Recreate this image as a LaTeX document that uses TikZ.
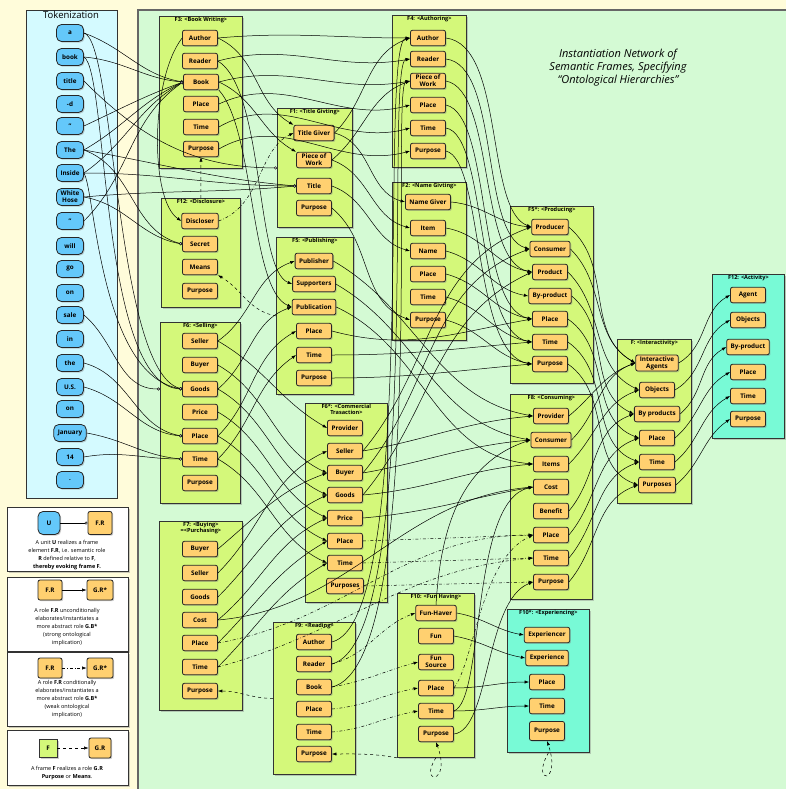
\documentclass[tikz,border=0pt]{standalone}
\usepackage{fontspec}
\setmainfont{Open Sans}
\usetikzlibrary{arrows.meta,shadows,calc}
\definecolor{outercream}{RGB}{255,252,218}
\definecolor{maingreen}{RGB}{212,250,212}
\definecolor{tokpanel}{RGB}{212,250,255}
\definecolor{framegreen}{RGB}{212,248,122}
\definecolor{frameteal}{RGB}{120,250,214}
\definecolor{roleorange}{RGB}{255,208,112}
\definecolor{tokenblue}{RGB}{100,200,250}
\def\rolefont{\fontsize{6.3}{6.8}\selectfont\bfseries}
\def\ftitlefont{\fontsize{5.6}{6}\selectfont\bfseries}
\def\legfont{\fontsize{5.5}{7.9}\selectfont}
\tikzset{
  role/.style={draw=black!85, fill=roleorange, rounded corners=2pt, line width=0.8pt,
    font=\rolefont, minimum height=15.5pt, minimum width=35pt, inner xsep=4pt, inner ysep=1.5pt,
    align=center, drop shadow={shadow xshift=1.2pt, shadow yshift=-1.2pt, opacity=0.4}},
  token/.style={role, fill=tokenblue, rounded corners=5pt, minimum height=17pt, minimum width=27pt},
  framebox/.style={draw=black!80, fill=framegreen, line width=0.8pt, anchor=north west,
    drop shadow={shadow xshift=2pt, shadow yshift=-2pt, opacity=0.4}},
  tealbox/.style={framebox, fill=frameteal},
  ftitle/.style={font=\ftitlefont, anchor=north, inner sep=1pt, align=center},
  legbox/.style={draw=black!80, fill=white, line width=0.8pt, anchor=north west,
    drop shadow={shadow xshift=1.5pt, shadow yshift=-1.5pt, opacity=0.4}},
  legtext/.style={font=\legfont, align=center, inner sep=0pt},
  elab/.style={-{Latex[length=4.5pt,width=3.2pt]}, line width=0.5pt},
  cond/.style={elab, dash dot},
  purp/.style={elab, dashed},
  realize/.style={-{Circle[length=3pt,width=3pt,fill=white]}, line width=0.5pt},
}
\begin{document}
\begin{tikzpicture}[x=1pt,y=-1pt]
\useasboundingbox (0,0) rectangle (786,789);
\fill[outercream] (0,0) rectangle (786,789);
\fill[maingreen] (138,10) rectangle (786,789);
\draw[black!60, line width=2pt] (138,789) -- (138,10) -- (786,10);

% tokenization panel
\node[draw=black!80, fill=tokpanel, line width=0.8pt, anchor=north west, minimum width=91pt, minimum height=488pt] (tokpanel) at (26,10) {};
\node[font=\fontsize{9.5}{10}\selectfont] (toktitle) at (71,15) {Tokenization};
\node[token] (tA) at (70,33) {a};
\node[token] (tBook) at (70,57) {book};
\node[token] (tTitle) at (70,81) {title};
\node[token] (tD) at (70,104) {-d};
\node[token] (tQa) at (70,126) {"};
\node[token] (tThe) at (70,150) {The};
\node[token] (tInside) at (70,173) {Inside};
\node[token] (tWhite) at (70,197) {White\\Hose};
\node[token] (tQb) at (70,221) {"};
\node[token] (tWill) at (70,246) {will};
\node[token] (tGo) at (70,269) {go};
\node[token] (tOn) at (70,293) {on};
\node[token] (tSale) at (70,315) {sale};
\node[token] (tIn) at (70,339) {in};
\node[token] (tThe2) at (70,363) {the};
\node[token] (tUS) at (70,387) {U.S.};
\node[token] (tOn2) at (70,409) {on};
\node[token] (tJan) at (70,433) {January};
\node[token] (t14) at (70,457) {14};
\node[token] (tDot) at (70,480) {.};

% legend
\node[legbox, minimum width=121pt, minimum height=64pt] (leg1) at (7,507) {};
\node[token, minimum width=22pt, minimum height=23pt] (legU) at (49,523) {U};
\node[role, minimum width=24pt, minimum height=23pt] (legFR) at (100,523) {F.R};
\draw[realize] (legU) -- (legFR);
\node[legtext] (leg1t) at (67,555) {A unit \textbf{U} realizes a frame\\element \textbf{F.R}, i.e. semantic role\\\textbf{R} defined relative to \textbf{F},\\\textbf{thereby evoking frame F.}};
\node[legbox, minimum width=121pt, minimum height=74pt] (leg2) at (7,577) {};
\node[role, minimum width=24pt, minimum height=20pt] (legFRb) at (50,590) {F.R};
\node[role, minimum width=26pt, minimum height=20pt] (legGRb) at (100,590) {G.R*};
\draw[elab] (legFRb) -- (legGRb);
\node[legtext] (leg2t) at (67,627) {A role \textbf{F.R} unconditionally\\elaborates/instantiates a\\more abstract role \textbf{G.B*}\\(strong ontological\\implication)};
\node[legbox, minimum width=121pt, minimum height=74pt] (leg3) at (7,652) {};
\node[role, minimum width=24pt, minimum height=20pt] (legFRc) at (50,668) {F.R};
\node[role, minimum width=26pt, minimum height=20pt] (legGRc) at (100,668) {G.R*};
\draw[cond] (legFRc) -- (legGRc);
\node[legtext] (leg3t) at (67,699) {A role \textbf{F.R} conditionally\\elaborates/instantiates a\\more abstract role \textbf{G.B*}\\(weak ontological\\implication)};
\node[legbox, minimum width=121pt, minimum height=55pt] (leg4) at (7,730) {};
\node[framebox, anchor=center, font=\rolefont, minimum size=18pt] (legF) at (48,748) {F};
\node[role, minimum width=22pt, minimum height=20pt] (legGRd) at (100,748) {G.R};
\draw[purp] (legF) -- (legGRd);
\node[legtext] (leg4t) at (67,773) {A frame \textbf{F} realizes a role \textbf{G.R}\\\textbf{Purpose} or \textbf{Means}.};

% title
\node[font=\fontsize{11}{13}\selectfont\itshape, align=center] (nettitle) at (618,68) {Instantiation Network of\\Semantic Frames, Specifying\\“Ontological Hierarchies”};

% frames
\node[framebox, minimum width=83pt, minimum height=152pt] (F3) at (159,16) {};
\node[framebox, minimum width=79pt, minimum height=109pt] (F12) at (161,198) {};
\node[framebox, minimum width=75pt, minimum height=119pt] (F1) at (277,108) {};
\node[framebox, minimum width=77pt, minimum height=157pt] (F5) at (276,237) {};
\node[framebox, minimum width=74pt, minimum height=152pt] (F4) at (392,15) {};
\node[framebox, minimum width=74pt, minimum height=158pt] (F2) at (392,182) {};
\node[framebox, minimum width=83pt, minimum height=177pt] (F5s) at (510,206) {};
\node[framebox, minimum width=74pt, minimum height=164pt] (FI) at (617,339) {};
\node[tealbox, minimum width=72pt, minimum height=164pt] (F12a) at (712,274) {};
\node[framebox, minimum width=80pt, minimum height=181pt] (F6) at (160,322) {};
\node[framebox, minimum width=83pt, minimum height=189pt] (F7) at (159,521) {};
\node[framebox, minimum width=82pt, minimum height=199pt] (F6s) at (305,403) {};
\node[framebox, minimum width=82pt, minimum height=152pt] (F9) at (273,622) {};
\node[framebox, minimum width=82pt, minimum height=205pt] (F8) at (510,394) {};
\node[framebox, minimum width=77pt, minimum height=164pt] (F10) at (397,593) {};
\node[tealbox, minimum width=82pt, minimum height=143pt] (F10s) at (507,609) {};

\node[ftitle] (F3t) at (F3.north) {F3: <Book Writing>};
\node[ftitle] (F12t) at (F12.north) {F12: <Disclosure>};
\node[ftitle] (F1t) at (F1.north) {F1: <Title Givting>};
\node[ftitle] (F5t) at (F5.north) {F5: <Publishing>};
\node[ftitle] (F4t) at (F4.north) {F4: <Authoring>};
\node[ftitle] (F2t) at (F2.north) {F2: <Name Givting>};
\node[ftitle] (F5st) at (F5s.north) {F5*: <Producing>};
\node[ftitle] (FIt) at (FI.north) {F: <Interactivity>};
\node[ftitle] (F12at) at (F12a.north) {F12: <Activity>};
\node[ftitle] (F6t) at (F6.north) {F6: <Selling>};
\node[ftitle] (F7t) at (F7.north) {F7: <Buying>\\=<Purchasing>};
\node[ftitle] (F6st) at (F6s.north) {F6*: <Commercial\\Trasaction>};
\node[ftitle] (F9t) at (F9.north) {F9: <Reading>};
\node[ftitle] (F8t) at (F8.north) {F8: <Consuming>};
\node[ftitle] (F10t) at (F10.north) {F10: <Fun Having>};
\node[ftitle] (F10st) at (F10s.north) {F10*: <Experiencing>};

% roles
\node[role] (f3Author) at (200,38) {Author};
\node[role] (f3Reader) at (200,61) {Reader};
\node[role] (f3Book) at (201,82) {Book};
\node[role] (f3Place) at (201,104) {Place};
\node[role] (f3Time) at (201,127) {Time};
\node[role] (f3Purpose) at (201,149) {Purpose};

\node[role] (f12Discloser) at (200,221) {Discloser};
\node[role] (f12Secret) at (200,244) {Secret};
\node[role] (f12Means) at (200,267) {Means};
\node[role] (f12Purpose) at (200,291) {Purpose};

\node[role] (f1Giver) at (314,133) {Title Giver};
\node[role] (f1Work) at (314,160) {Piece of\\Work};
\node[role] (f1Title) at (314,186) {Title};
\node[role] (f1Purpose) at (314,208) {Purpose};

\node[role] (f5Publisher) at (314,261) {Publisher};
\node[role] (f5Supporters) at (314,284) {Supporters};
\node[role] (f5Publication) at (314,307) {Publication};
\node[role] (f5Place) at (314,331) {Place};
\node[role] (f5Time) at (314,355) {Time};
\node[role] (f5Purpose) at (314,378) {Purpose};

\node[role] (f4Author) at (428,38) {Author};
\node[role] (f4Reader) at (428,59) {Reader};
\node[role] (f4Work) at (428,81) {Piece of\\Work};
\node[role] (f4Place) at (428,105) {Place};
\node[role] (f4Time) at (428,128) {Time};
\node[role] (f4Purpose) at (428,151) {Purpose};

\node[role] (f2Giver) at (428,202) {Name Giver};
\node[role] (f2Item) at (428,228) {Item};
\node[role] (f2Name) at (428,251) {Name};
\node[role] (f2Place) at (428,274) {Place};
\node[role] (f2Time) at (428,297) {Time};
\node[role] (f2Purpose) at (428,320) {Purpose};

\node[role] (pProducer) at (550,227) {Producer};
\node[role] (pConsumer) at (550,249) {Consumer};
\node[role] (pProduct) at (550,272) {Product};
\node[role] (pByproduct) at (550,296) {By-product};
\node[role] (pPlace) at (550,319) {Place};
\node[role] (pTime) at (550,342) {Time};
\node[role] (pPurpose) at (550,364) {Purpose};

\node[role] (iAgents) at (657,363) {Interactive\\Agents};
\node[role] (iObjects) at (657,390) {Objects};
\node[role] (iByproducts) at (657,414) {By products};
\node[role] (iPlace) at (657,438) {Place};
\node[role] (iTime) at (657,462) {Time};
\node[role] (iPurposes) at (657,485) {Purposes};

\node[role] (aAgent) at (748,295) {Agent};
\node[role] (aObjects) at (748,320) {Objects};
\node[role] (aByproduct) at (748,347) {By-product};
\node[role] (aPlace) at (748,372) {Place};
\node[role] (aTime) at (748,396) {Time};
\node[role] (aPurpose) at (748,419) {Purpose};

\node[role] (f6Seller) at (200,341) {Seller};
\node[role] (f6Buyer) at (200,365) {Buyer};
\node[role] (f6Goods) at (200,389) {Goods};
\node[role] (f6Price) at (200,412) {Price};
\node[role] (f6Place) at (200,436) {Place};
\node[role] (f6Time) at (200,459) {Time};
\node[role] (f6Purpose) at (200,483) {Purpose};

\node[role] (f7Buyer) at (200,549) {Buyer};
\node[role] (f7Seller) at (200,573) {Seller};
\node[role] (f7Goods) at (200,597) {Goods};
\node[role] (f7Cost) at (200,620) {Cost};
\node[role] (f7Place) at (200,643) {Place};
\node[role] (f7Time) at (200,667) {Time};
\node[role] (f7Purpose) at (200,691) {Purpose};

\node[role] (ctProvider) at (345,428) {Provider};
\node[role] (ctSeller) at (345,451) {Seller};
\node[role] (ctBuyer) at (345,473) {Buyer};
\node[role] (ctGoods) at (345,495) {Goods};
\node[role] (ctPrice) at (345,518) {Price};
\node[role] (ctPlace) at (345,541) {Place};
\node[role] (ctTime) at (345,563) {Time};
\node[role] (ctPurposes) at (345,586) {Purposes};

\node[role] (f9Author) at (314,642) {Author};
\node[role] (f9Reader) at (314,664) {Reader};
\node[role] (f9Book) at (314,687) {Book};
\node[role] (f9Place) at (314,709) {Place};
\node[role] (f9Time) at (314,732) {Time};
\node[role] (f9Purpose) at (314,754) {Purpose};

\node[role] (f8Provider) at (551,416) {Provider};
\node[role] (f8Consumer) at (551,440) {Consumer};
\node[role] (f8Items) at (551,464) {Items};
\node[role] (f8Cost) at (551,487) {Cost};
\node[role] (f8Benefit) at (551,511) {Benefit};
\node[role] (f8Place) at (551,535) {Place};
\node[role] (f8Time) at (551,558) {Time};
\node[role] (f8Purpose) at (551,582) {Purpose};

\node[role] (f10Haver) at (436,613) {Fun-Haver};
\node[role] (f10Fun) at (436,636) {Fun};
\node[role] (f10Source) at (436,662) {Fun\\Source};
\node[role] (f10Place) at (436,688) {Place};
\node[role] (f10Time) at (436,711) {Time};
\node[role] (f10Purpose) at (436,734) {Purpose};

\node[role] (eExperiencer) at (547,635) {Experiencer};
\node[role] (eExperience) at (547,658) {Experience};
\node[role] (ePlace) at (547,682) {Place};
\node[role] (eTime) at (547,706) {Time};
\node[role, minimum height=19pt] (ePurpose) at (547,731) {Purpose};

% tokens realize roles
\draw[realize] (tA.east) to[out=-20,in=170] (f3Book.west);
\draw[realize] (tBook.east) to[out=-5,in=175] (f3Book.west);
\draw[realize] (tQa.east) to[out=25,in=200] (f3Book.west);
\draw[realize] (tThe.east) to[out=30,in=205] (f3Book.west);
\draw[realize] (tInside.east) to[out=35,in=210] (f3Book.west);
\draw[realize] (tQb.east) to[out=45,in=215] (f3Book.west);
\draw[realize] (tThe.east) to[out=-10,in=175] (f1Title.west);
\draw[realize] (tInside.east) to[out=0,in=180] (f1Title.west);
\draw[realize] (tWhite.east) to[out=5,in=185] (f1Title.west);
\draw[realize] (tTitle.east) to[out=-45,in=180] (F1.west);
\draw[realize] (tThe.east) to[out=-20,in=165] (f12Secret.west);
\draw[realize] (tWhite.east) to[out=-10,in=170] (f12Secret.west);
\draw[realize] (tA.east) .. controls (115,40) and (115,370) .. (f6Goods.west);
\draw[realize] (tBook.east) .. controls (108,70) and (100,385) .. (f6Goods.west);
\draw[realize] (tInside.east) .. controls (95,190) and (100,375) .. (f6Goods.west);
\draw[realize] (tSale.east) to[out=-40,in=180] (F6.west |- f6Goods);
\draw[realize] (tThe2.east) to[out=-15,in=170] (f6Place.west);
\draw[realize] (tUS.east) to[out=-15,in=175] (f6Place.west);
\draw[realize] (tJan.east) to[out=-10,in=175] (f6Time.west);
\draw[realize] (t14.east) to[out=10,in=180] (f6Time.west);

% F3 Book Writing
\draw[elab] (f3Author.west) .. controls (150,80) and (150,200) .. (f12Discloser.west);
\draw[elab] (f3Author.east) to[out=5,in=180] (f4Author.west);
\draw[elab] (f3Reader.east) to[out=15,in=190] (f4Reader.west);
\draw[elab] (f3Book.east) to[out=15,in=190] (f4Work.west);
\draw[elab] (f3Place.east) to[out=25,in=195] (f4Place.west);
\draw[elab] (f3Time.east) to[out=30,in=195] (f4Time.west);
\draw[elab] (f3Purpose.east) to[out=30,in=195] (f4Purpose.west);
\draw[elab] (f3Author.east) to[out=-25,in=150] (f1Giver.north west);
\draw[elab] (f3Book.east) to[out=-25,in=150] (f1Work.north west);
\draw[elab] (f3Book.south east) .. controls (255,130) and (250,290) .. (f5Publication.west);
\draw[elab] (f3Reader.east) .. controls (265,90) and (255,270) .. (f5Supporters.west);
\draw[cond] (f12Discloser.east) .. controls (262,205) and (258,150) .. (f1Giver.west);

% F1 Title Giving
\draw[elab] (f1Giver.east) to[out=-15,in=165] (f2Giver.west);
\draw[elab] (f1Work.east) to[out=-20,in=165] (f2Item.west);
\draw[elab] (f1Title.east) to[out=-20,in=165] (f2Name.west);
\draw[elab] (f1Purpose.east) to[out=-40,in=160] (f2Purpose.west);
\draw[elab] (f1Giver.east) to[out=45,in=200] (f4Author.west);
\draw[elab] (f1Work.east) to[out=40,in=200] (f4Work.west);

% F4 Authoring
\draw[elab] (f4Author.east) .. controls (505,45) and (485,210) .. (pProducer.west);
\draw[elab] (f4Reader.east) .. controls (500,65) and (480,235) .. (pConsumer.west);
\draw[elab] (f4Work.east) .. controls (495,90) and (478,262) .. (pProduct.west);
\draw[elab] (f4Place.east) .. controls (492,115) and (476,308) .. (pPlace.west);
\draw[elab] (f4Time.east) .. controls (488,135) and (474,332) .. (pTime.west);
\draw[elab] (f4Purpose.east) .. controls (484,160) and (472,355) .. (pPurpose.west);

% F2 Name Giving
\draw[elab] (f2Giver.east) to[out=-5,in=175] (pProducer.west);
\draw[elab] (f2Item.east) to[out=-10,in=170] (pProduct.west);
\draw[elab] (f2Name.east) to[out=-15,in=170] (pByproduct.west);
\draw[elab] (f2Place.east) to[out=-15,in=170] (pPlace.west);
\draw[elab] (f2Time.east) to[out=-15,in=170] (pTime.west);
\draw[elab] (f2Purpose.east) to[out=-15,in=170] (pPurpose.west);

% F5 Publishing
\draw[elab] (f5Publisher.east) to[out=-30,in=170] (f8Provider.west);
\draw[elab] (f5Supporters.east) to[out=-30,in=170] (f8Consumer.west);
\draw[elab] (f5Publication.east) to[out=-25,in=175] (f8Items.west);
\draw[elab] (f5Place.east) to[out=-15,in=190] (pPlace.west);
\draw[elab] (f5Time.east) to[out=0,in=185] (pTime.west);
\draw[elab] (f5Purpose.east) to[out=0,in=185] (pPurpose.west);
\draw[purp] (F5.west) to[out=170,in=-30] (f12Means.south east);

% F6 Selling
\draw[elab] (f6Seller.east) to[out=35,in=200] (f5Publisher.west);
\draw[elab] (f6Goods.east) to[out=40,in=200] (f5Publication.west);
\draw[elab] (f6Place.east) to[out=45,in=210] (f5Place.west);
\draw[elab] (f6Time.east) to[out=45,in=215] (f5Time.west);
\draw[elab] (f6Seller.east) to[out=-30,in=150] (ctProvider.west);
\draw[elab] (f6Buyer.east) to[out=-30,in=155] (ctBuyer.west);
\draw[elab] (f6Goods.east) to[out=-30,in=155] (ctGoods.west);
\draw[elab] (f6Price.east) to[out=-30,in=155] (ctPrice.west);
\draw[elab] (f6Place.east) to[out=-30,in=155] (ctPlace.west);
\draw[elab] (f6Time.east) to[out=-30,in=155] (ctTime.west);

% F7 Buying
\draw[elab] (f7Buyer.east) to[out=40,in=200] (ctBuyer.west);
\draw[elab] (f7Seller.east) to[out=45,in=205] (ctSeller.west);
\draw[elab] (f7Goods.east) to[out=45,in=205] (ctGoods.west);
\draw[elab] (f7Cost.east) to[out=40,in=205] (ctPrice.west);
\draw[elab] (f7Place.east) to[out=45,in=210] (ctPlace.west);
\draw[elab] (f7Time.east) to[out=45,in=210] (ctTime.west);
\draw[elab] (f7Cost.east) to[out=5,in=185] (f8Cost.west);
\draw[cond] (f7Place.east) to[out=10,in=180] (f8Place.west);
\draw[cond] (f7Time.east) to[out=15,in=185] (f8Time.west);

% F6* Commercial Transaction
\draw[elab] (ctSeller.east) to[out=10,in=185] (f8Provider.west);
\draw[elab] (ctBuyer.east) to[out=10,in=185] (f8Consumer.west);
\draw[elab] (ctGoods.east) to[out=5,in=185] (f8Items.west);
\draw[elab] (ctPrice.east) to[out=5,in=190] (f8Cost.west);
\draw[elab] (ctSeller.east) to[out=50,in=200] (pProducer.west);
\draw[elab] (ctBuyer.east) to[out=50,in=200] (pConsumer.west);
\draw[elab] (ctGoods.east) to[out=50,in=205] (pProduct.west);
\draw[cond] (ctPlace.east) -- (f8Place.west);
\draw[cond] (ctTime.east) -- (f8Time.west);
\draw[cond] (ctPurposes.east) -- (f8Purpose.west);

% F8 Consuming, F5* Producing
\draw[elab] (f8Provider.east) to[out=40,in=200] (iAgents.west);
\draw[elab] (f8Consumer.east) to[out=45,in=200] (iAgents.west);
\draw[elab] (f8Items.east) to[out=45,in=200] (iObjects.west);
\draw[elab] (f8Benefit.east) to[out=50,in=200] (iByproducts.west);
\draw[elab] (f8Place.east) to[out=50,in=200] (iPlace.west);
\draw[elab] (f8Time.east) to[out=50,in=200] (iTime.west);
\draw[elab] (f8Purpose.east) to[out=50,in=200] (iPurposes.west);
\draw[elab] (pProducer.east) to[out=-40,in=150] (iAgents.west);
\draw[elab] (pConsumer.east) to[out=-45,in=150] (iAgents.west);
\draw[elab] (pProduct.east) to[out=-45,in=155] (iObjects.west);
\draw[elab] (pByproduct.east) to[out=-40,in=155] (iByproducts.west);
\draw[elab] (pPlace.east) to[out=-35,in=160] (iPlace.west);
\draw[elab] (pTime.east) to[out=-35,in=160] (iTime.west);
\draw[elab] (pPurpose.east) to[out=-35,in=160] (iPurposes.west);

% Interactivity -> Activity
\draw[elab] (iAgents.east) to[out=30,in=210] (aAgent.west);
\draw[elab] (iObjects.east) to[out=30,in=210] (aObjects.west);
\draw[elab] (iByproducts.east) to[out=40,in=210] (aByproduct.west);
\draw[elab] (iPlace.east) to[out=40,in=210] (aPlace.west);
\draw[elab] (iTime.east) to[out=40,in=210] (aTime.west);
\draw[elab] (iPurposes.east) to[out=40,in=215] (aPurpose.west);

% F9 Reading
\draw[elab] (f9Author.east) .. controls (420,620) and (378,40) .. (f4Author.west);
\draw[elab] (f9Reader.east) .. controls (425,640) and (384,62) .. (f4Reader.west);
\draw[elab] (f9Book.east) .. controls (430,665) and (390,84) .. (f4Work.west);
\draw[cond] (f9Reader.east) to[out=15,in=200] (f10Haver.west);
\draw[cond] (f9Book.east) to[out=10,in=195] (f10Source.west);
\draw[cond] (f9Place.east) to[out=5,in=190] (f10Place.west);
\draw[cond] (f9Time.east) to[out=5,in=190] (f10Time.west);
\draw[purp] (F9.west) to[out=180,in=0] (f7Purpose.east);

% F10 Fun Having
\draw[elab] (f10Haver.east) to[out=-10,in=170] (eExperiencer.west);
\draw[elab] (f10Fun.east) to[out=-10,in=170] (eExperience.west);
\draw[elab] (f10Place.east) to[out=0,in=180] (ePlace.west);
\draw[elab] (f10Time.east) to[out=0,in=180] (eTime.west);
\draw[elab] (f10Haver.north) .. controls (440,540) and (455,465) .. (f8Consumer.west);
\draw[elab] (f10Time.east) .. controls (485,700) and (470,500) .. (f8Cost.west);
\draw[cond] (f10Place.east) .. controls (475,660) and (480,560) .. (f8Place.west);
\draw[elab] (f10Purpose.east) .. controls (490,730) and (485,600) .. (f8Purpose.west);
\draw[purp] (F10.south west) to[out=170,in=0] (f9Purpose.east);
\draw[purp] (F10.south) .. controls (418,785) and (452,785) .. (f10Purpose.south);
\draw[purp] (F10s.south) .. controls (530,785) and (562,785) .. (ePurpose.south);

% F12 Disclosure
\draw[purp] (F12.north) -- (f3Purpose.south);
\end{tikzpicture}
\end{document}
